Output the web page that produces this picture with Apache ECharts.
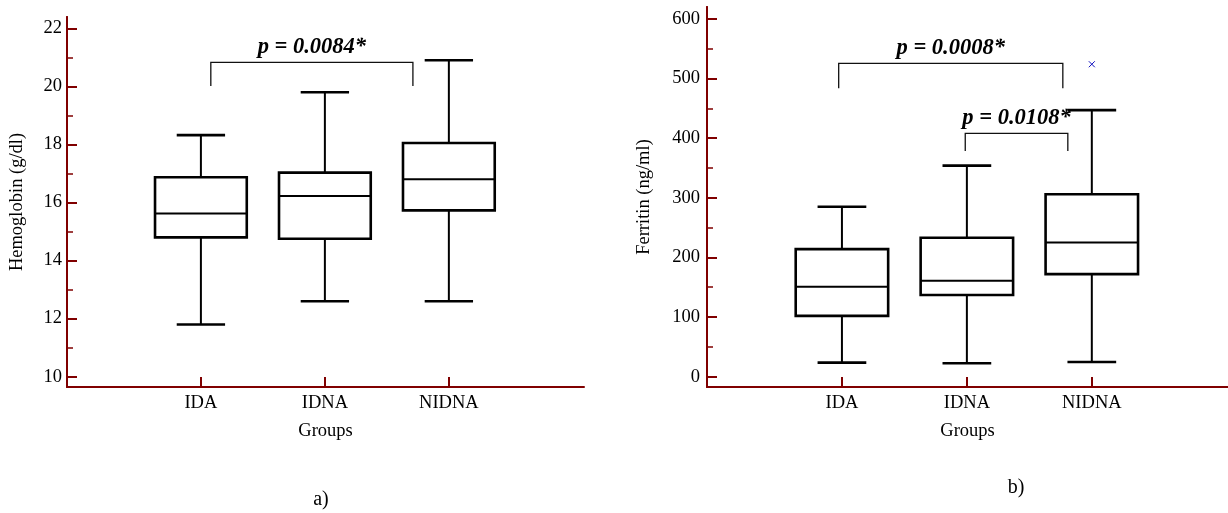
<!DOCTYPE html>
<html>
<head>
<meta charset="utf-8">
<script src="https://cdn.jsdelivr.net/npm/echarts@6/dist/echarts.min.js"></script>
<style>
html,body{margin:0;padding:0;background:#fff;}
#chart{width:1228px;height:513px;}
</style>
</head>
<body>
<div id="chart"></div>
<script>
// ---------- data ----------
const groups = ['IDA', 'IDNA', 'NIDNA'];
const groupPos = [1, 2, 3];

// Hemoglobin (g/dl) box statistics
const hbMin    = [11.8, 12.6, 12.6];
const hbQ1     = [14.8, 14.75, 15.73];
const hbMedian = [15.62, 16.22, 16.8];
const hbQ3     = [16.87, 17.03, 18.05];
const hbMax    = [18.32, 19.8, 20.9];

// Ferritin (ng/ml) box statistics
const ferMin    = [23.5, 22.5, 24.7];
const ferQ1     = [102, 137, 172];
const ferMedian = [151, 161, 225];
const ferQ3     = [214, 233, 306];
const ferMax    = [285, 354, 447];
const ferOutlierGroup = [3];
const ferOutlierValue = [524];

// tick labels
const hbTicks = [10, 12, 14, 16, 18, 20, 22];
const hbMinorTicks = [11, 13, 15, 17, 19, 21];
const ferTicks = [0, 100, 200, 300, 400, 500, 600];
const ferMinorTicks = [50, 150, 250, 350, 450, 550];

// significance annotations
const hbAnnotLabels = ['p = 0.0084*'];
const hbAnnotFrom = [1.08];
const hbAnnotTo = [2.71];
const hbAnnotTop = [20.83];
const hbAnnotBottom = [20.01];

const ferAnnotLabels = ['p = 0.0008*', 'p = 0.0108*'];
const ferAnnotFrom = [0.974, 1.987];
const ferAnnotTo = [2.768, 2.808];
const ferAnnotTop = [525.6, 408.2];
const ferAnnotBottom = [483.7, 378.6];

// ---------- styles ----------
const FONT = "'Liberation Serif', 'Times New Roman', serif";
const AXIS = '#800000';
const BOX_W = 0.74, CAP_W = 0.39;

function boxData(mn, q1, md, q3, mx) {
  return groupPos.map((x, i) => [x, mn[i], q1[i], md[i], q3[i], mx[i]]);
}
function annotData(from, to, top, bottom) {
  return from.map((f, i) => [f, to[i], top[i], bottom[i]]);
}

function renderBox(params, api) {
  const x = api.value(0);
  const pMin = api.coord([x, api.value(1)]);
  const pQ1 = api.coord([x, api.value(2)]);
  const pMed = api.coord([x, api.value(3)]);
  const pQ3 = api.coord([x, api.value(4)]);
  const pMax = api.coord([x, api.value(5)]);
  const hb = api.size([BOX_W, 0])[0] / 2;
  const hc = api.size([CAP_W, 0])[0] / 2;
  const cx = pMed[0];
  const st = { stroke: '#000', lineWidth: 2, fill: null };
  const stBox = { stroke: '#000', lineWidth: 2.6, fill: null };
  return {
    type: 'group',
    children: [
      { type: 'line', shape: { x1: cx, y1: pMax[1], x2: cx, y2: pQ3[1] }, style: st },
      { type: 'line', shape: { x1: cx, y1: pQ1[1], x2: cx, y2: pMin[1] }, style: st },
      { type: 'line', shape: { x1: cx - hc, y1: pMax[1], x2: cx + hc, y2: pMax[1] }, style: stBox },
      { type: 'line', shape: { x1: cx - hc, y1: pMin[1], x2: cx + hc, y2: pMin[1] }, style: stBox },
      { type: 'rect', shape: { x: cx - hb, y: pQ3[1], width: 2 * hb, height: pQ1[1] - pQ3[1] }, style: stBox },
      { type: 'line', shape: { x1: cx - hb, y1: pMed[1], x2: cx + hb, y2: pMed[1] }, style: st }
    ]
  };
}

function makeAnnotRenderer(labels) {
  return function (params, api) {
    const a = api.coord([api.value(0), api.value(2)]);
    const b = api.coord([api.value(1), api.value(2)]);
    const aB = api.coord([api.value(0), api.value(3)]);
    const bB = api.coord([api.value(1), api.value(3)]);
    return {
      type: 'group',
      children: [
        { type: 'polyline', shape: { points: [[aB[0], aB[1]], [a[0], a[1]], [b[0], b[1]], [bB[0], bB[1]]] },
          style: { stroke: '#111', lineWidth: 1.3, fill: null } },
        { type: 'text', x: (a[0] + b[0]) / 2, y: a[1] - 15,
          style: { text: labels[params.dataIndex], fontFamily: FONT, fontSize: 22.5, fontWeight: 'bold',
                   fontStyle: 'italic', fill: '#000', align: 'center', verticalAlign: 'middle' } }
      ]
    };
  };
}

function renderOutlier(params, api) {
  const p = api.coord([api.value(0), api.value(1)]);
  const s = 3;
  const st = { stroke: '#1010c0', lineWidth: 1 };
  return {
    type: 'group',
    children: [
      { type: 'line', shape: { x1: p[0] - s, y1: p[1] - s, x2: p[0] + s, y2: p[1] + s }, style: st },
      { type: 'line', shape: { x1: p[0] - s, y1: p[1] + s, x2: p[0] + s, y2: p[1] - s }, style: st }
    ]
  };
}

function xAxisCfg(gridIndex) {
  return {
    gridIndex: gridIndex, type: 'value', min: -0.08, max: 4.09,
    name: 'Groups', nameLocation: 'middle', nameGap: 35,
    nameTextStyle: { fontFamily: FONT, fontSize: 18.5, color: '#000' },
    axisLine: { show: true, onZero: false, lineStyle: { color: AXIS, width: 2 } },
    axisTick: { show: true, inside: true, length: 10, customValues: groupPos, lineStyle: { color: AXIS, width: 2 } },
    axisLabel: { customValues: groupPos, margin: 7, fontFamily: FONT, fontSize: 18.5, color: '#000',
                 formatter: v => groups[Math.round(v) - 1] },
    splitLine: { show: false }
  };
}

function yAxisCfg(gridIndex, min, max, ticks, name, nameGap, labelMargin) {
  return {
    gridIndex: gridIndex, type: 'value', min: min, max: max, position: 'left', offset: 0,
    name: name, nameLocation: 'middle', nameGap: nameGap, nameRotate: 90,
    nameTextStyle: { fontFamily: FONT, fontSize: 18.5, color: '#000' },
    axisLine: { show: true, onZero: false, lineStyle: { color: AXIS, width: 2 } },
    axisTick: { show: true, inside: true, length: 10, customValues: ticks, lineStyle: { color: AXIS, width: 2 } },
    axisLabel: { customValues: ticks, margin: labelMargin, fontFamily: FONT, fontSize: 18.5, color: '#000' },
    splitLine: { show: false }
  };
}
function yMinorCfg(gridIndex, min, max, ticks) {
  return {
    gridIndex: gridIndex, type: 'value', min: min, max: max, position: 'left', offset: 0,
    axisLine: { show: true, onZero: false, lineStyle: { color: AXIS, width: 2 } },
    axisTick: { show: true, inside: true, length: 6, customValues: ticks, lineStyle: { color: AXIS, width: 1.5 } },
    axisLabel: { show: false },
    splitLine: { show: false }
  };
}

const chart = echarts.init(document.getElementById('chart'), null, { renderer: 'canvas' });
chart.setOption({
  backgroundColor: '#fff',
  animation: false,
  grid: [
    { left: 67, top: 17, width: 517, height: 370 },
    { left: 707, top: 7, right: 0, height: 380 }
  ],
  xAxis: [xAxisCfg(0), xAxisCfg(1)],
  yAxis: [
    yAxisCfg(0, 9.645, 22.39, hbTicks, 'Hemoglobin (g/dl)', 40, 5),
    yMinorCfg(0, 9.645, 22.39, hbMinorTicks),
    yAxisCfg(1, -17.3, 620, ferTicks, 'Ferritin (ng/ml)', 53, 7),
    yMinorCfg(1, -17.3, 620, ferMinorTicks)
  ],
  graphic: [
    { type: 'text', x: 321, y: 500, style: { text: 'a)', fontFamily: FONT, fontSize: 20, fill: '#000', align: 'center', verticalAlign: 'middle' } },
    { type: 'text', x: 1016, y: 488, style: { text: 'b)', fontFamily: FONT, fontSize: 20, fill: '#000', align: 'center', verticalAlign: 'middle' } }
  ],
  series: [
    { type: 'custom', xAxisIndex: 0, yAxisIndex: 0, renderItem: renderBox,
      data: boxData(hbMin, hbQ1, hbMedian, hbQ3, hbMax), encode: { x: 0, y: [1, 2, 3, 4, 5] }, clip: false },
    { type: 'custom', xAxisIndex: 0, yAxisIndex: 0, renderItem: makeAnnotRenderer(hbAnnotLabels),
      data: annotData(hbAnnotFrom, hbAnnotTo, hbAnnotTop, hbAnnotBottom), encode: { x: [0, 1], y: [2, 3] }, clip: false },
    { type: 'custom', xAxisIndex: 1, yAxisIndex: 2, renderItem: renderBox,
      data: boxData(ferMin, ferQ1, ferMedian, ferQ3, ferMax), encode: { x: 0, y: [1, 2, 3, 4, 5] }, clip: false },
    { type: 'custom', xAxisIndex: 1, yAxisIndex: 2, renderItem: makeAnnotRenderer(ferAnnotLabels),
      data: annotData(ferAnnotFrom, ferAnnotTo, ferAnnotTop, ferAnnotBottom), encode: { x: [0, 1], y: [2, 3] }, clip: false },
    { type: 'custom', xAxisIndex: 1, yAxisIndex: 2, renderItem: renderOutlier,
      data: ferOutlierGroup.map((g, i) => [g, ferOutlierValue[i]]), encode: { x: 0, y: 1 }, clip: false }
  ]
});
</script>
</body>
</html>
